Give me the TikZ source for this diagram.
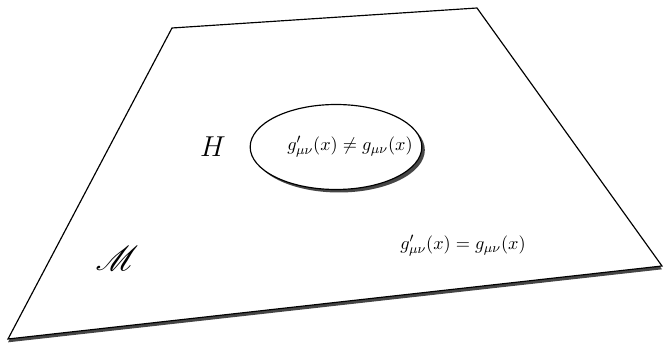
\documentclass[tikz,border=0pt]{standalone}
\usepackage{amsmath}
\usepackage{mathrsfs}
\usepackage{tikz}
\usetikzlibrary{
  shapes.geometric,
  shadows,
  positioning
}
\definecolor{ShadowGray}{RGB}{50,50,50}
\tikzset{
  %%-- sheet and region -----------------------------------
  sheet/.style = {
    draw = black, fill = white, line width = 0.7pt, line join = miter,
    drop shadow = {shadow xshift = 0pt, shadow yshift = -2pt,
                   fill = ShadowGray, opacity = 0.9}
  },
  region/.style = {
    ellipse, draw = black, fill = white, line width = 0.7pt,
    minimum width = 103pt, minimum height = 51pt, inner sep = 0pt,
    drop shadow = {shadow xshift = 1.8pt, shadow yshift = -1.8pt,
                   fill = ShadowGray, opacity = 0.9}
  },
  %%-- labels ---------------------------------------------
  eqlabel/.style = {inner sep = 1pt, font = \fontsize{10.8}{13}\selectfont},
  biglabel/.style = {inner sep = 1pt, font = \LARGE}
}

\begin{document}
\begin{tikzpicture}[x=0.6pt, y=-0.6pt]
  \useasboundingbox (0,0) rectangle (664,343);
  % corners of the manifold
  \coordinate (tl) at (172,28);
  \coordinate (tr) at (477,8);
  \coordinate (br) at (662,266);
  \coordinate (bl) at (8,339);
  \draw[sheet] (tl) -- (tr) -- (br) -- (bl) -- cycle;

  \node[region] (hole) at (336,147) {};
  \node[eqlabel] (neq) at (350,147)
    {$g'_{\mu\nu}(x) \neq g_{\mu\nu}(x)$};
  \node[biglabel] (hlab) at (213,147) {$H$};
  \node[eqlabel] (eq) at (463,246)
    {$g'_{\mu\nu}(x) = g_{\mu\nu}(x)$};
  \node[biglabel] (mlab) at (117,258) {\huge$\mathscr{M}$};
\end{tikzpicture}
\end{document}
